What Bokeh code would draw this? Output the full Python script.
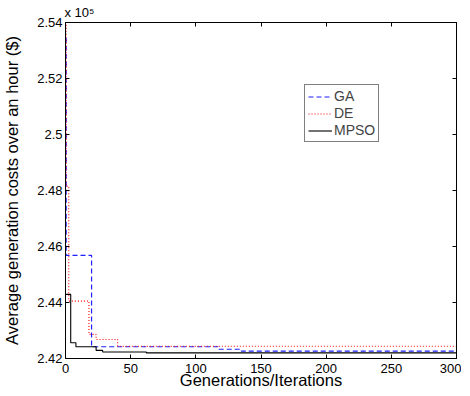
from bokeh.plotting import figure
from bokeh.models import Range1d, LinearAxis, Legend, LegendItem, Title, FixedTicker
from bokeh.embed import file_html
from bokeh.resources import INLINE

# ---- data (cost in $, iteration breakpoints) ----
ga_iter = [0, 0.5, 20, 117, 135, 300]
ga_cost = [253430, 245680, 242420, 242330, 242260, 242260]

de_iter = [0, 0.5, 2.5, 18, 23.5, 40, 300]
de_cost = [254000, 248150, 244050, 242860, 242680, 242440, 242440]

mpso_iter = [0, 4, 8, 23.5, 28.5, 62, 300]
mpso_cost = [244290, 242560, 242420, 242290, 242230, 242200, 242200]

x_ticks = [0, 50, 100, 150, 200, 250, 300]
y_ticks = [242000, 244000, 246000, 248000, 250000, 252000, 254000]
y_tick_labels = ["2.42", "2.44", "2.46", "2.48", "2.5", "2.52", "2.54"]

FONT = "Liberation Sans"

p = figure(output_backend="svg", toolbar_location=None,
           x_range=Range1d(0, 300), y_range=Range1d(242000, 254000),
           frame_width=391, frame_height=336,
           min_border_left=62, min_border_top=14, min_border_right=5, min_border_bottom=5)
p.background_fill_color = "white"
p.border_fill_color = "white"
p.xgrid.visible = False
p.ygrid.visible = False
p.outline_line_color = "black"
p.outline_line_width = 1

r_ga = p.step(ga_iter, ga_cost, mode="after", line_color="#1f1fff", line_width=1.2, line_dash="5 3")
r_de = p.step(de_iter, de_cost, mode="after", line_color="#ff0000", line_width=1.1, line_dash="1 2")
r_mp = p.step(mpso_iter, mpso_cost, mode="after", line_color="black", line_width=1.1)

def style_axis(ax, labels=True):
    ax.axis_line_color = "black"
    ax.major_tick_in = 4
    ax.major_tick_out = 0
    ax.minor_tick_in = 0
    ax.minor_tick_out = 0
    ax.major_tick_line_color = "black"
    ax.major_label_text_font = FONT
    ax.major_label_text_font_size = "13px"
    ax.major_label_text_color = "black"
    ax.axis_label_text_font = FONT
    ax.axis_label_text_font_style = "normal"
    ax.axis_label_text_font_size = "16.5px"
    ax.axis_label_text_color = "black"
    if not labels:
        ax.major_label_text_font_size = "0px"
        ax.major_label_text_alpha = 0
        ax.major_label_standoff = 0

xa = p.xaxis[0]
xa.ticker = FixedTicker(ticks=x_ticks)
xa.axis_label = "Generations/Iterations"
style_axis(xa)
xa.axis_label_standoff = -5
xa.major_label_standoff = 5

ya = p.yaxis[0]
ya.ticker = FixedTicker(ticks=y_ticks)
ya.major_label_overrides = {t: l for t, l in zip(y_ticks, y_tick_labels)}
ya.axis_label = "Average generation costs over an hour ($)"
style_axis(ya)
ya.axis_label_standoff = 13
ya.major_label_standoff = 3

top = LinearAxis(ticker=FixedTicker(ticks=x_ticks))
style_axis(top, labels=False)
p.add_layout(top, "above")
right = LinearAxis(ticker=FixedTicker(ticks=y_ticks))
style_axis(right, labels=False)
p.add_layout(right, "right")

# exponent of the y axis
exp_title = Title(text="x 10\u2075", align="left", offset=-1, standoff=5,
                  text_font=FONT, text_font_size="13px", text_font_style="normal",
                  text_color="black")
p.add_layout(exp_title, "above")

legend = Legend(items=[LegendItem(label="GA", renderers=[r_ga]),
                       LegendItem(label="DE", renderers=[r_de]),
                       LegendItem(label="MPSO", renderers=[r_mp])],
                location=(239, 216))
legend.label_text_font = FONT
legend.label_text_font_size = "14px"
legend.label_height = 15
legend.glyph_height = 15
legend.glyph_width = 24
legend.label_standoff = 2
legend.spacing = 1
legend.padding = 3
legend.margin = 0
legend.border_line_color = "black"
legend.border_line_width = 1
legend.background_fill_alpha = 1
p.add_layout(legend)

open("out.html", "w").write(file_html(p, INLINE))
